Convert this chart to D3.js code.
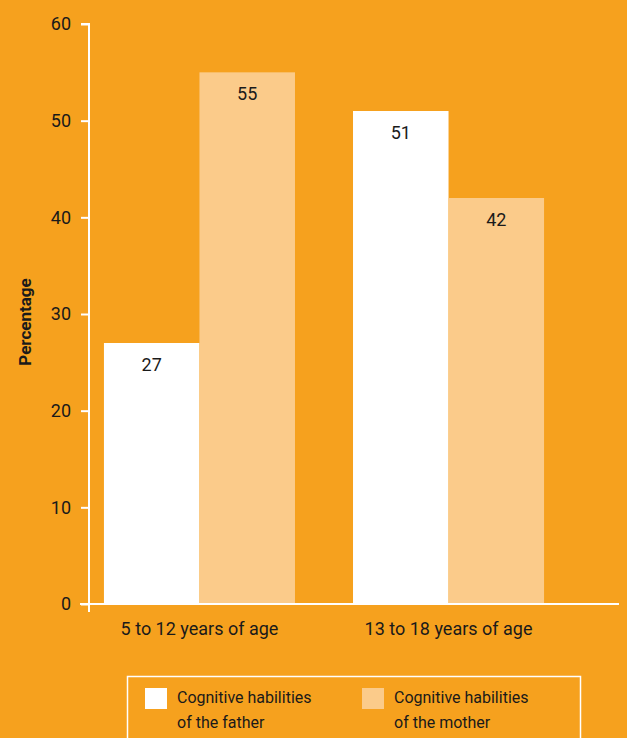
<!DOCTYPE html>
<html><head><meta charset="utf-8">
<script src="https://cdn.jsdelivr.net/npm/d3@7"></script>
<style>html,body{margin:0;padding:0;background:#F6A11E;}svg{display:block;}</style>
</head><body>
<script>
const categories = ["5 to 12 years of age", "13 to 18 years of age"];
const seriesNames = ["Cognitive habilities of the father", "Cognitive habilities of the mother"];
const fatherValues = [27, 51];
const motherValues = [55, 42];
const yTicks = [0, 10, 20, 30, 40, 50, 60];
const legendLines = [["Cognitive habilities", "of the father"], ["Cognitive habilities", "of the mother"]];
const colors = ["#FFFFFF", "#FBCB8A"];

const W = 627, H = 738;
const font = "'Liberation Sans Narrow', 'Roboto', sans-serif";
const svg = d3.select("body").append("svg").attr("width", W).attr("height", H);
svg.append("rect").attr("width", W).attr("height", H).attr("fill", "#F6A11E");

const y = d3.scaleLinear().domain([0, 60]).range([604, 24]);
const x0 = d3.scaleBand().domain(categories).range([89, 559]).paddingInner(0.233).paddingOuter(0.06);
const x1 = d3.scaleBand().domain([0, 1]).range([0, x0.bandwidth()]);

const data = categories.map((c, i) => ({cat: c, vals: [fatherValues[i], motherValues[i]]}));

const g = svg.append("g");
data.forEach(d => {
  d.vals.forEach((v, j) => {
    g.append("rect")
      .attr("x", x0(d.cat) + x1(j)).attr("y", y(v))
      .attr("width", x1.bandwidth()).attr("height", y(0) - y(v))
      .attr("fill", colors[j]);
    g.append("text")
      .attr("x", x0(d.cat) + x1(j) + x1.bandwidth() / 2).attr("y", y(v) + 28)
      .attr("text-anchor", "middle").attr("font-family", font).attr("font-size", 18)
      .attr("fill", "#1a1a1a").text(v);
  });
});

// y axis
const yAxis = d3.axisLeft(y).tickValues(yTicks).tickSize(8).tickPadding(10);
const ya = svg.append("g").attr("transform", "translate(89,0)").call(yAxis);
ya.select(".domain").attr("stroke", "#fff").attr("stroke-width", 2).attr("d", "M-8,24H0V604");
ya.selectAll(".tick line").attr("stroke", "#fff").attr("stroke-width", 2);
ya.selectAll(".tick text").attr("font-family", font).attr("font-size", 18).attr("fill", "#1a1a1a");

// x axis
const xAxis = d3.axisBottom(x0).tickSize(0).tickPadding(18);
const xa = svg.append("g").attr("transform", "translate(0,604)").call(xAxis);
xa.select(".domain").attr("stroke", "#fff").attr("stroke-width", 2).attr("d", "M80,0H619");
xa.selectAll(".tick text").attr("font-family", font).attr("font-size", 18).attr("fill", "#1a1a1a");
svg.append("line").attr("x1", 89).attr("x2", 89).attr("y1", 600).attr("y2", 612).attr("stroke", "#fff").attr("stroke-width", 2);

// y title
svg.append("text").attr("transform", "translate(31,322) rotate(-90)")
  .attr("text-anchor", "middle").attr("font-family", font).attr("font-weight", "bold")
  .attr("font-size", 17).attr("fill", "#1a1a1a").text("Percentage");

// legend
svg.append("rect").attr("x", 127.5).attr("y", 676.5).attr("width", 453).attr("height", 80)
  .attr("fill", "none").attr("stroke", "#fff").attr("stroke-width", 1.5);
const lg = [145, 362];
seriesNames.forEach((s, i) => {
  svg.append("rect").attr("x", lg[i]).attr("y", 688).attr("width", 22).attr("height", 21).attr("fill", colors[i]);
  const t = svg.append("text").attr("x", lg[i] + 32).attr("y", 703).attr("font-family", font)
    .attr("font-size", 16).attr("fill", "#1a1a1a");
  legendLines[i].forEach((l, k) => t.append("tspan").attr("x", lg[i] + 32).attr("dy", k ? 25 : 0).text(l));
});
</script>
</body></html>
